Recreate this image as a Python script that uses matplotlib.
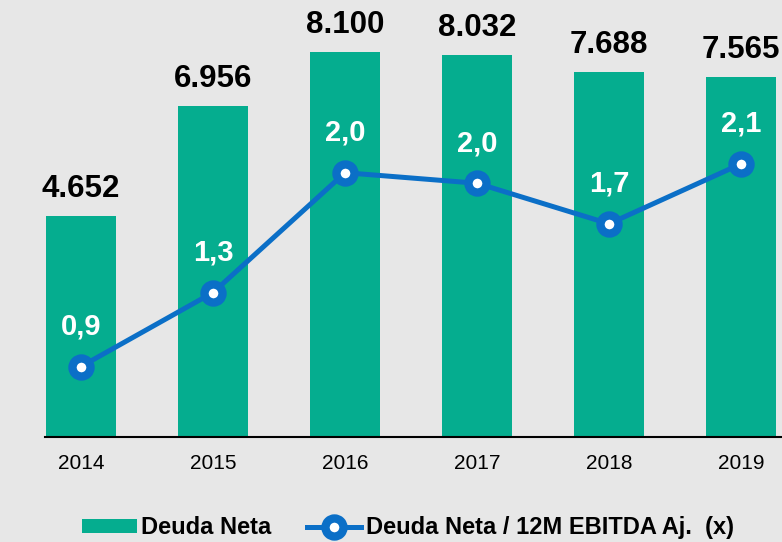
import matplotlib as mpl; mpl.use('agg')
import matplotlib.pyplot as plt
from matplotlib.lines import Line2D
from matplotlib.patches import Patch

plt.rcParams['font.family'] = ['Liberation Sans', 'DejaVu Sans']

years = ['2014', '2015', '2016', '2017', '2018', '2019']
deuda_neta = [4652, 6956, 8100, 8032, 7688, 7565]           # bars
ratio = [0.92, 1.34, 2.02, 1.96, 1.73, 2.07]                 # Deuda Neta / 12M EBITDA Aj.

bg = '#e7e7e7'
green = '#05ad8f'
blue = '#0b6fc7'

fig = plt.figure(figsize=(7.82, 5.42), dpi=100, facecolor=bg)
ax = fig.add_axes([45/782, 105/542, 737/782, 437/542])
ax.set_facecolor(bg)

x = range(len(years))
ax.bar(x, deuda_neta, width=0.53, color=green, zorder=2)
ax.set_xlim(-0.273, 5.31)
ax.set_ylim(0, 9194)

for i, v in enumerate(deuda_neta):
    ax.annotate(f"{v:,}".replace(',', '.'), (i, v), xytext=(0, 13.7),
                textcoords='offset points', ha='center', va='baseline',
                fontsize=22.5, fontweight='bold', color='black')

ax.set_xticks(list(x))
ax.set_xticklabels(years, fontsize=15)
ax.tick_params(axis='x', length=0, pad=12)
ax.set_yticks([])
for s in ['top', 'right', 'left']:
    ax.spines[s].set_visible(False)
ax.spines['bottom'].set_linewidth(1.5)
ax.spines['bottom'].set_color('black')

ax2 = ax.twinx()
ax2.set_ylim(0.52, 3.0)
ax2.set_yticks([])
for s in ['top', 'right', 'left', 'bottom']:
    ax2.spines[s].set_visible(False)
ax2.plot(x, ratio, color=blue, lw=3.6, marker='o', ms=13, mew=6,
         mfc='white', mec=blue, zorder=3)
for i, v in enumerate(ratio):
    ax2.annotate(f"{v:.1f}".replace('.', ','), (i, v), xytext=(0, 23),
                 textcoords='offset points', ha='center', va='baseline',
                 fontsize=21, fontweight='bold', color='white')

handles = [Patch(facecolor=green, edgecolor='none'),
           Line2D([], [], color=blue, lw=3.6, marker='o', ms=13, mew=6,
                  mfc='white', mec=blue)]
labels = ['Deuda Neta', 'Deuda Neta / 12M EBITDA Aj.  (x)']
fig.legend(handles, labels, loc='center', bbox_to_anchor=(0.522, 0.026), ncol=2,
           frameon=False, prop={'size': 17, 'weight': 'bold'},
           handlelength=2.3, handleheight=0.55, handletextpad=0.2, columnspacing=1.5)

fig.savefig('out.png', dpi=100, facecolor=bg)
